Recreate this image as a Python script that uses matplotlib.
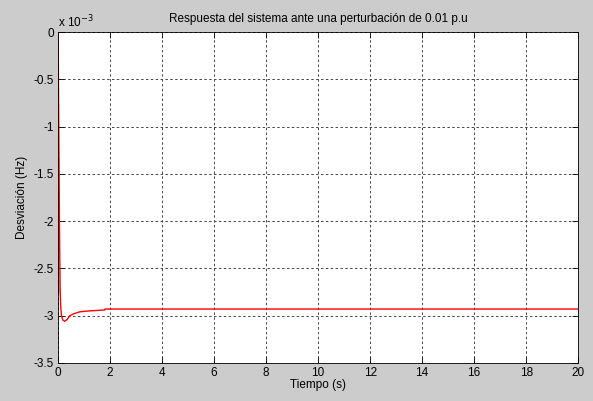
import numpy as np
import matplotlib
matplotlib.use("Agg")
import matplotlib.pyplot as plt
from matplotlib.ticker import FormatStrFormatter

matplotlib.rc("font", **{"family": "sans-serif",
                         "sans-serif": ["Liberation Sans", "DejaVu Sans"],
                         "size": 8})

# frequency deviation (Hz)
t_red = [0, 0.03, 0.06, 0.08, 0.1, 0.13, 0.18, 0.25, 0.35, 0.45,
         0.6, 0.83, 1.0, 1.2, 1.5, 1.79, 1.8, 20]
dev_red = [0, -1.2e-3, -2.3e-3, -2.75e-3, -2.9e-3, -3.0e-3, -3.045e-3,
           -3.06e-3, -3.04e-3, -3.0e-3, -2.98e-3, -2.96e-3,
           -2.955e-3, -2.95e-3, -2.945e-3, -2.94e-3, -2.93e-3, -2.93e-3]
t_black = [0.01, 0.01, 0.015]
dev_black = [-1.34e-3, -2.28e-3, -2.75e-3]

scale = 1e3

fig = plt.figure(figsize=(5.93, 4.01), dpi=100, facecolor="#cccccc")
ax = fig.add_axes([0.098, 0.095, 0.877, 0.825])
ax.set_facecolor("white")

ax.plot(t_black, np.array(dev_black) * scale, color="black", lw=1)
ax.plot(t_red, np.array(dev_red) * scale, color="red", lw=1)

ax.set_xlim(0, 20)
ax.set_ylim(-3.5, 0)
ax.set_xticks(np.arange(0, 21, 2))
ax.set_yticks(np.arange(-3.5, 0.01, 0.5))
ax.yaxis.set_major_formatter(FormatStrFormatter("%g"))
ax.grid(True, linestyle=(0, (2.5, 2.5)), color="#444444", lw=0.7)
ax.tick_params(direction="in", length=4, width=0.6, top=True, right=True,
               labeltop=False, labelright=False, pad=3, labelsize=8.5)
for s in ax.spines.values():
    s.set_linewidth(0.6)

ax.set_title("Respuesta del sistema ante una perturbación de 0.01 p.u",
             fontsize=8.5, pad=7)
ax.set_xlabel("Tiempo (s)", labelpad=0, fontsize=8.5)
ax.set_ylabel("Desviación (Hz)", labelpad=4, fontsize=8.5)
ax.text(0, 1.005, r"x 10$^{-3}$", transform=ax.transAxes, ha="left",
        va="bottom", fontsize=8.5)

plt.savefig("out.png", dpi=100, facecolor=fig.get_facecolor())
plt.close()
